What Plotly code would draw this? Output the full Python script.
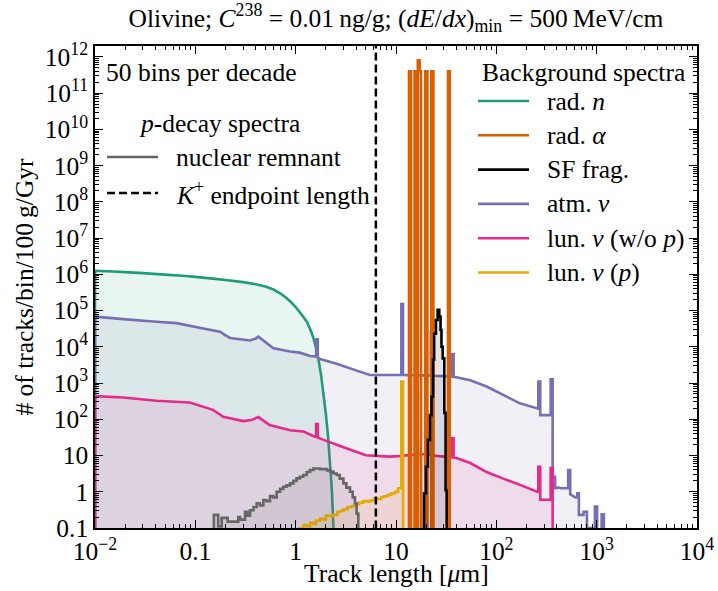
import plotly.graph_objects as go

# ---------------- data ----------------
BASE = 1e-3  # "empty" level, below the visible axis range

# rad. n  (smooth, drawn as polyline)
rad_n_x = [0.01, 0.015, 0.02, 0.03, 0.05, 0.08, 0.1, 0.15, 0.2, 0.3, 0.4, 0.5, 0.6, 0.7, 0.8,
           0.9, 1.0, 1.1, 1.2, 1.3, 1.4, 1.5, 1.6, 1.7, 1.8, 1.9, 2.0, 2.1, 2.2, 2.3, 2.38]
rad_n_y = [1.25e6, 1.2e6, 1.15e6, 1.08e6, 9.8e5, 9.0e5, 8.5e5, 7.6e5, 7.0e5, 6.1e5, 5.3e5, 4.6e5,
           3.8e5, 3.0e5, 2.3e5, 1.7e5, 1.25e5, 9e4, 6.5e4, 4.8e4, 3e4, 1.8e4, 9e3, 4e3, 1.5e3,
           4.5e2, 1.4e2, 35, 6, 1.0, 0.1]

# rad. alpha (narrow peaks)
rad_a_x = [13.48, 13.48, 14.11, 14.11, 15.3, 15.3, 15.7, 15.7, 16.5, 16.5, 17.2, 17.2, 17.76, 17.76,
           19.6, 19.6, 20.56, 20.56, 22.48, 22.48, 23.6, 23.6, 33.0, 33.0, 34.3, 34.3]
rad_a_y = [BASE, 4e11, 4e11, BASE, BASE, 4e11, 4e11, BASE, BASE, 8e11, 8e11, 4e11, 4e11, BASE,
           BASE, 4e11, 4e11, BASE, BASE, 4e11, 4e11, BASE, BASE, 4e11, 4e11, BASE]

# SF fragments (histogram: bin edges + counts)
sf_edges = [18.6, 19.0, 19.9, 20.8, 21.8, 22.6, 23.4, 24.0, 25.0, 26.0, 27.0, 27.8, 28.4, 29.2,
            30.3, 31.2, 32.0]
sf_counts = [0.05, 0.9, 4.9, 27, 130, 420, 4400, 2.3e4, 5.5e4, 1.05e5, 6.8e4, 2.9e4, 1e4, 4.8e3,
             150, 1.1]

# atm. nu
atm_x = [0.01, 0.019, 0.041, 0.065, 0.12, 0.176, 0.198, 0.222, 0.35, 0.40, 0.425, 0.6, 0.88, 1.10,
         1.39, 1.60, 1.60, 1.66, 1.66, 1.75, 2.56, 4.06, 5.5, 8.7, 11.3, 11.3, 11.75, 11.75, 15,
         22.2, 22.2, 23.3, 23.3, 30, 35.9, 35.9, 37.5, 37.5, 40, 55, 80, 117, 172, 255, 262, 262,
         274, 274, 300, 348, 348, 364, 364, 385, 385, 420, 440, 520, 520, 545, 545, 615, 640, 640,
         665, 665, 720, 740, 740, 800, 800, 880, 960, 960, 1010, 1010, 1120, 1120, 1180]
atm_y = [6.8e4, 5.8e4, 4.9e4, 4.5e4, 3.2e4, 2.6e4, 2.1e4, 1.75e4, 1.5e4, 1.7e4, 1.9e4, 9.1e3, 7.4e3,
         6.9e3, 5.6e3, 5.4e3, 1.6e4, 1.6e4, 5.0e3, 4.6e3, 3.4e3, 2.2e3, 1.66e3, 1.66e3, 1.66e3,
         1.5e5, 1.5e5, 1.66e3, 1.65e3, 1.6e3, 2.6e4, 2.6e4, 1.58e3, 1.55e3, 1.5e3, 6.3e3, 6.3e3,
         1.48e3, 1.45e3, 1.2e3, 800, 470, 275, 200, 195, 1100, 1100, 130, 130, 130, 1260, 1260, 2.6,
         2.6, 1.26, 1.3, 1.25, 1.25, 4.0, 4.0, 0.85, 0.7, 0.7, 0.9, 0.9, 0.23, 0.23, 0.23, 0.28,
         0.28, 0.1, 0.1, 0.1, 0.39, 0.39, 0.09, 0.09, 0.24, 0.24]

# lun. nu (w/o p)
lun_x = [0.01, 0.019, 0.041, 0.088, 0.15, 0.19, 0.30, 0.36, 0.425, 0.55, 0.88, 1.2, 1.55, 1.60,
         1.60, 1.66, 1.66, 1.9, 2.9, 5, 8.7, 11.4, 17, 22.2, 22.2, 23.3, 23.3, 30, 35.9, 35.9, 37.5,
         37.5, 40, 55, 80, 117, 172, 255, 262, 262, 274, 274, 348, 348, 364]
lun_y = [435, 400, 325, 290, 182, 117, 89, 95, 115, 69, 50, 46, 33, 33, 74, 74, 31, 27, 17.4, 10.2,
         9.3, 9.8, 11, 10.5, 130, 130, 10, 9.3, 9, 30, 30, 8.7, 8.5, 6.2, 3.5, 2.3, 1.55, 1.0, 1.0,
         4.9, 4.9, 0.6, 0.6, 4.5, 4.5]

# lun. nu (p) (histogram: bin edges + counts)
lunp_edges = [1.1, 1.2, 1.3, 1.4, 1.5, 1.6, 1.75, 1.9, 2.0, 2.2, 2.37, 2.6, 2.8, 3.0, 3.3, 3.6, 3.9,
              4.3, 4.7, 5.2, 5.6, 6.1, 6.6, 7.1, 7.7, 8.3, 9.0, 9.8, 10.5, 11.3, 11.75]
lunp_counts = [0.1, 0.12, 0.11, 0.14, 0.13, 0.16, 0.18, 0.17, 0.22, 0.21, 0.23, 0.28, 0.3, 0.33,
               0.38, 0.4, 0.45, 0.5, 0.55, 0.54, 0.58, 0.65, 0.63, 0.72, 0.75, 0.82, 0.9, 1.0, 1.25,
               1100]

# p-decay nuclear remnant (histogram: bin edges + counts)
rem_edges = [0.153, 0.169, 0.183, 0.21, 0.239, 0.268, 0.28, 0.313, 0.33, 0.351, 0.38, 0.409, 0.44,
             0.476, 0.51, 0.555, 0.6, 0.647, 0.7, 0.754, 0.81, 0.879, 0.95, 1.02, 1.1, 1.19, 1.29,
             1.39, 1.5, 1.62, 1.75, 1.89, 2.05, 2.2, 2.38, 2.56, 2.75, 2.99, 3.2, 3.48, 3.7, 3.9,
             4.05, 4.21]
rem_counts = [0.23, 0.11, 0.19, 0.15, 0.15, 0.2, 0.17, 0.28, 0.22, 0.31, 0.38, 0.48, 0.42, 0.59,
              0.55, 0.76, 0.7, 1.0, 1.2, 1.38, 1.5, 1.7, 2.0, 2.34, 2.6, 2.9, 3.5, 4.0, 4.4, 4.4,
              4.2, 4.2, 3.9, 3.6, 3.2, 2.9, 2.3, 1.7, 1.3, 1.0, 0.7, 0.48, 0.25]

K_ENDPOINT = 6.3  # K+ endpoint length [um]

x_tickvals = [1e-2, 1e-1, 1, 10, 1e2, 1e3, 1e4]
x_ticktext = ["10<sup>\u22122</sup>", "0.1", "1", "10", "10<sup>2</sup>", "10<sup>3</sup>", "10<sup>4</sup>"]
y_tickvals = [10.0 ** k for k in range(-1, 13)]
y_ticktext = ["0.1", "1", "10"] + ["10<sup>%d</sup>" % k for k in range(2, 13)]

# ---------------- styling ----------------
FONT = "Liberation Serif"
FS = 25.5
C_N, C_A, C_SF, C_ATM, C_LUN, C_LUNP, C_REM = (
    "#1b9e77", "#d95f02", "#000000", "#7570b3", "#e7298a", "#e6ab02", "#666666")


def rgba(hexc, a=0.1):
    h = hexc.lstrip("#")
    return "rgba(%d,%d,%d,%.2f)" % (int(h[0:2], 16), int(h[2:4], 16), int(h[4:6], 16), a)


fig = go.Figure()


def add_poly(x, y, color):
    xs = [x[0]] + list(x) + [x[-1]]
    ys = [BASE] + list(y) + [BASE]
    fig.add_trace(go.Scatter(x=xs, y=ys, mode="lines",
                             line=dict(color=color, width=2.6, simplify=False),
                             fill="toself", fillcolor=rgba(color), showlegend=False,
                             hoverinfo="skip"))


def add_hist(edges, counts, color):
    xs = [edges[0]] + list(edges)
    ys = [BASE] + list(counts) + [BASE] * (len(edges) - len(counts))
    fig.add_trace(go.Scatter(x=xs, y=ys, mode="lines",
                             line=dict(color=color, width=2.6, shape="hv", simplify=False),
                             fill="toself", fillcolor=rgba(color), showlegend=False,
                             hoverinfo="skip"))


add_poly(rad_n_x, rad_n_y, C_N)
add_poly(atm_x, atm_y, C_ATM)
add_poly(lun_x, lun_y, C_LUN)
add_hist(lunp_edges, lunp_counts, C_LUNP)
add_poly(rad_a_x, rad_a_y, C_A)
add_hist(sf_edges, sf_counts, C_SF)
add_hist(rem_edges, rem_counts, C_REM)

fig.add_trace(go.Scatter(x=[K_ENDPOINT, K_ENDPOINT], y=[BASE, 1e14], mode="lines",
                         line=dict(color="black", width=2.5, dash="8px,4px"),
                         showlegend=False, hoverinfo="skip"))

# ---------------- layout ----------------
L, R, T, B = 95, 21, 46, 63
W, H = 718, 591
PW, PH = W - L - R, H - T - B


def px(xp):
    return (xp - L) / PW


def py(yp):
    return (H - B - yp) / PH


minor_x = [k * 10.0 ** d for d in range(-2, 4) for k in range(2, 10)]
minor_y = [k * 10.0 ** d for d in range(-1, 13) for k in range(2, 10)]

axis_common = dict(type="log", showgrid=False, zeroline=False, showline=True, linecolor="black",
                   linewidth=1.5, mirror="allticks", ticks="inside", ticklen=8, tickwidth=1.2,
                   tickcolor="black", automargin=False,
                   tickfont=dict(family=FONT, size=FS, color="black"))

fig.update_layout(
    width=W, height=H, margin=dict(l=L, r=R, t=T, b=B, autoexpand=False),
    paper_bgcolor="white", plot_bgcolor="white",
    font=dict(family=FONT, size=FS, color="black"),
    title=dict(text="Olivine; <i>C</i><sup>238</sup> = 0.01\u2009ng/g; (<i>dE</i>/<i>dx</i>)<sub>min</sub> = 500\u2009MeV/cm",
               x=px(396), xref="paper", xanchor="center", y=1 - 18 / H, yanchor="middle",
               font=dict(family=FONT, size=FS, color="black")),
    xaxis=dict(axis_common, range=[-2, 4], tickmode="array", tickvals=x_tickvals,
               ticktext=x_ticktext,
               minor=dict(tickmode="array", tickvals=minor_x, ticks="inside", ticklen=4,
                          tickwidth=1, tickcolor="black", showgrid=False)),
    yaxis=dict(axis_common, range=[-1, 12.3], tickmode="array", tickvals=y_tickvals,
               ticktext=y_ticktext,
               minor=dict(tickmode="array", tickvals=minor_y, ticks="inside", ticklen=4,
                          tickwidth=1, tickcolor="black", showgrid=False),
               title=dict(text="# of tracks/bin/100\u2009g/Gyr", standoff=4,
                          font=dict(family=FONT, size=FS))),
    showlegend=False,
)

# ---------------- hand-placed legends and x-axis title ----------------
annotations = []
shapes = []


def label(text, xp, yp, anchor="left"):
    annotations.append(dict(text=text, x=px(xp), y=py(yp), xref="paper", yref="paper",
                            xanchor=anchor, yanchor="middle", showarrow=False,
                            font=dict(family=FONT, size=FS, color="black")))


def sample(x0p, x1p, yp, color, dash="solid"):
    shapes.append(dict(type="line", xref="paper", yref="paper", x0=px(x0p), x1=px(x1p),
                       y0=py(yp), y1=py(yp), line=dict(color=color, width=2.6, dash=dash)))


label("Track length [<i>\u03bc</i>m]", 396, 573, anchor="center")

label("50 bins per decade", 104, 72)
label("<i>p</i>-decay spectra", 137, 124)
sample(107, 158, 157, C_REM)
label("nuclear remnant", 174, 157)
sample(107, 158, 193, "black", dash="8px,4px")
label("<i>K</i><sup>+</sup> endpoint length", 174, 193)

label("Background spectra", 480, 72)
bg_entries = [("rad. <i>n</i>", C_N), ("rad. <i>\u03b1</i>", C_A), ("SF frag.", C_SF),
              ("atm. <i>\u03bd</i>", C_ATM), ("lun. <i>\u03bd</i> (w/o <i>p</i>)", C_LUN),
              ("lun. <i>\u03bd</i> (<i>p</i>)", C_LUNP)]
for i, (txt, col) in enumerate(bg_entries):
    yy = 101 + 34.3 * i
    sample(478, 529, yy, col)
    label(txt, 545, yy)

fig.update_layout(annotations=annotations, shapes=shapes)

fig.write_html("out.html", config={"displayModeBar": False},
               post_script="document.body.style.margin='0';")
